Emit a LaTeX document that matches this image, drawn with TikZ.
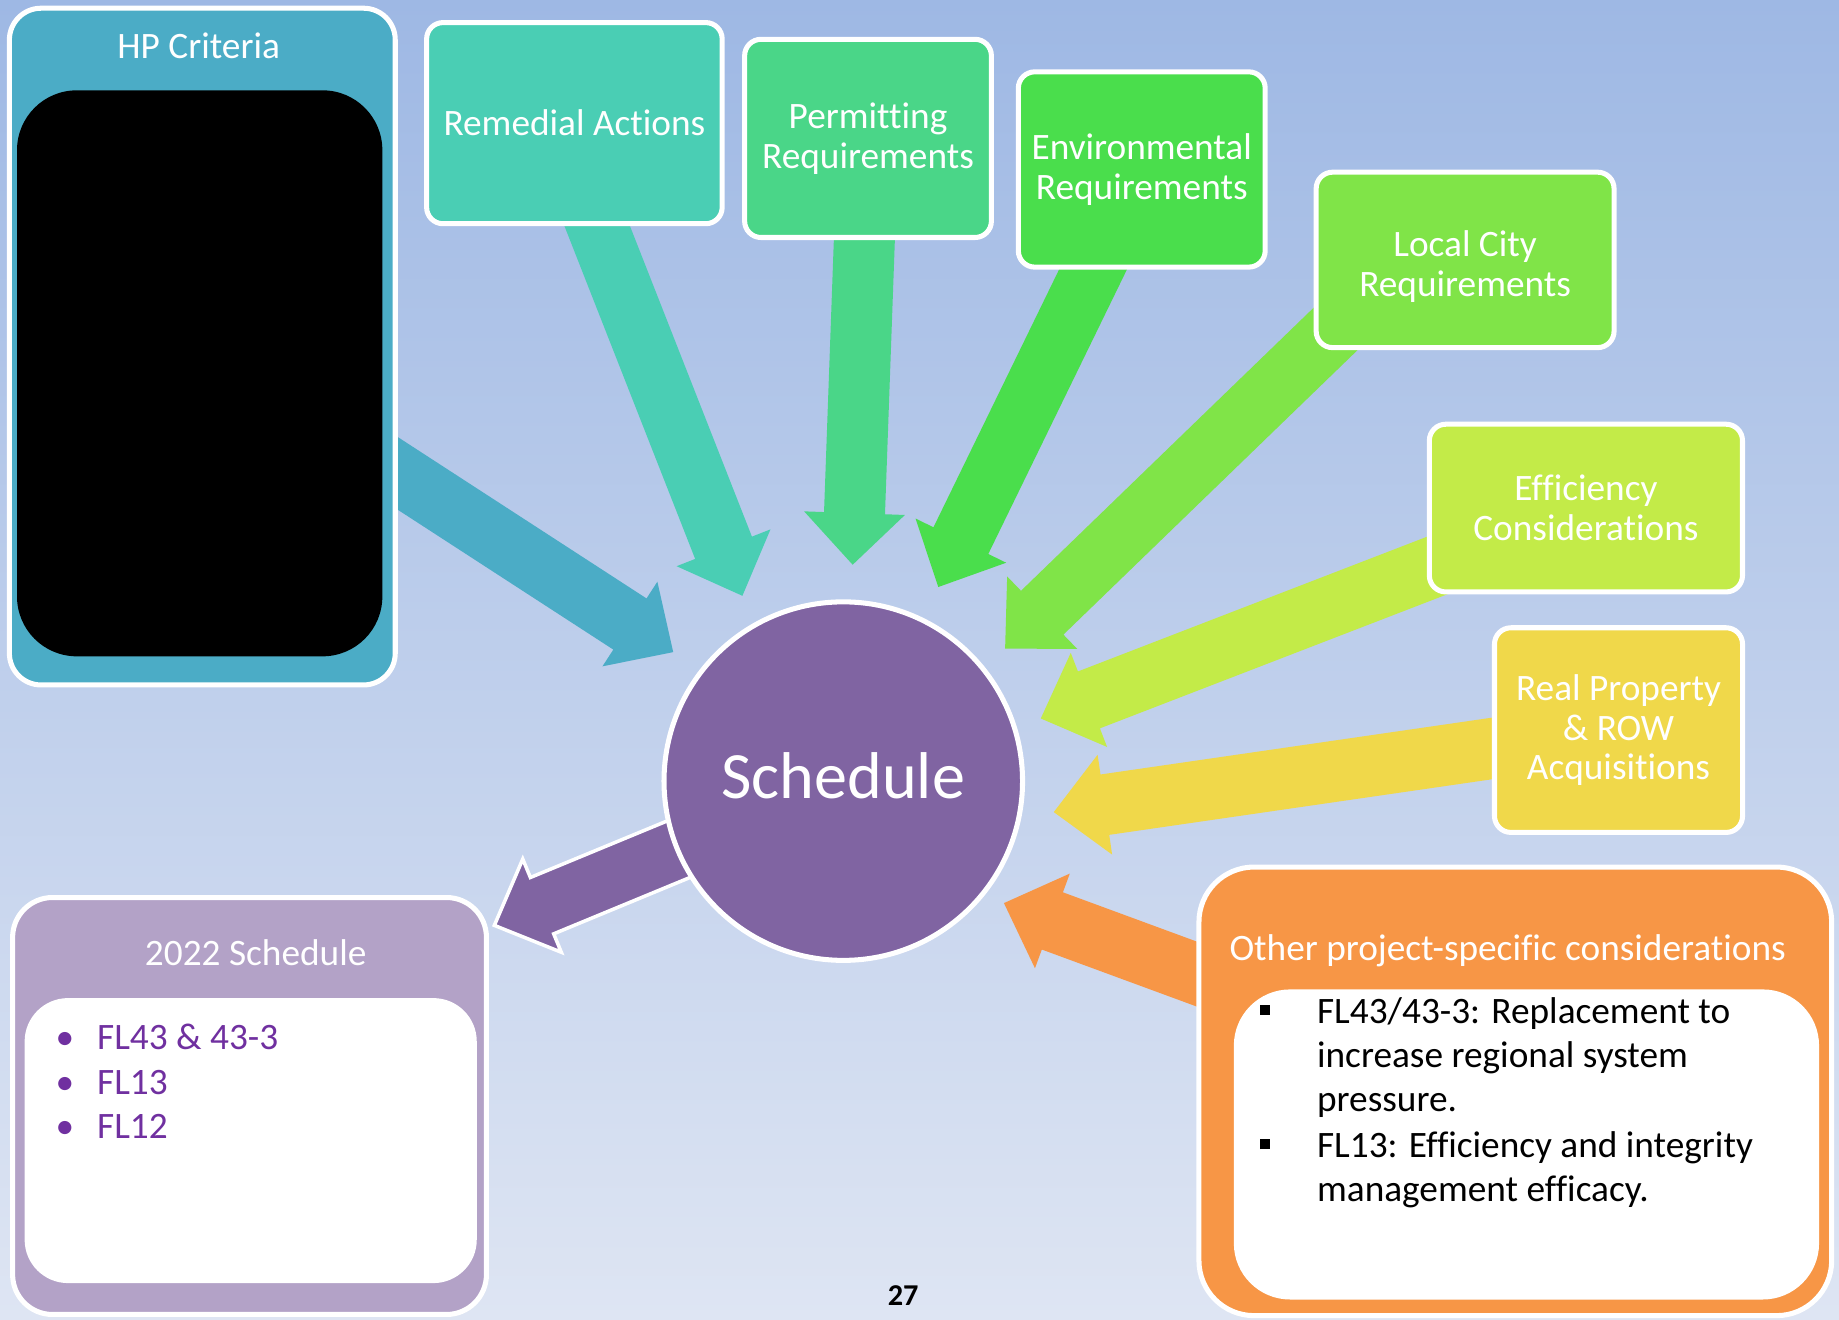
\documentclass[tikz,border=0pt]{standalone}
\usepackage{fontspec}
\setmainfont[Ligatures=NoCommon]{Carlito}
\usetikzlibrary{calc}

\newlength{\pxu}
\setlength{\pxu}{0.5pt}

\definecolor{bgtop}{RGB}{158,184,228}
\definecolor{bgbot}{RGB}{222,229,243}
\definecolor{hpblue}{RGB}{75,172,198}
\definecolor{remteal}{RGB}{74,206,180}
\definecolor{permgreen}{RGB}{74,214,136}
\definecolor{envgreen}{RGB}{74,222,76}
\definecolor{citygreen}{RGB}{128,228,72}
\definecolor{effgreen}{RGB}{195,235,72}
\definecolor{rowyellow}{RGB}{240,216,74}
\definecolor{othorange}{RGB}{247,150,70}
\definecolor{schpurple}{RGB}{128,100,162}
\definecolor{lilac}{RGB}{179,162,199}
\definecolor{itempurple}{RGB}{112,48,160}

\pgfdeclarelayer{page}
\pgfdeclarelayer{arrows}
\pgfsetlayers{page,arrows,main}

\newcommand{\sqbullet}{\rule[3.6pt]{4.3pt}{4.3pt}}

% block arrow: #1 style, #2 tail, #3 tip
\newcommand{\bigarrow}[3]{%
  \coordinate (ba-s) at (#2);
  \coordinate (ba-t) at (#3);
  \coordinate (ba-b) at ($(ba-t)!22pt!(ba-s)$);
  \coordinate (ba-e) at ($(ba-s)!24pt!180:(ba-t)$);
  \path[#1] (ba-t) -- ($(ba-b)!21.5pt!90:(ba-s)$) -- ($(ba-b)!13pt!90:(ba-s)$)
     -- ($(ba-e)!13pt!-90:(ba-t)$) -- ($(ba-e)!13pt!90:(ba-t)$)
     -- ($(ba-b)!13pt!-90:(ba-s)$) -- ($(ba-b)!21.5pt!-90:(ba-s)$) -- cycle;
}

\begin{document}
\begin{tikzpicture}[x=0.5pt,y=-0.5pt,
    box/.style={rectangle, rounded corners=14\pxu, draw=white, line width=4.3\pxu,
      text=white, align=center, inner sep=0pt, font=\fontsize{15.9}{17}\selectfont},
    panel/.style={rectangle, draw=white, line width=4.3\pxu, inner sep=0pt},
    pane/.style={rectangle, draw=none, inner sep=0pt},
    head/.style={text=white, anchor=base, inner sep=0pt, font=\fontsize{15.9}{17}\selectfont}]

\useasboundingbox (0,0) rectangle (1568,1125);
\begin{pgfonlayer}{page}
  \shade[top color=bgtop, bottom color=bgbot] (0,0) rectangle (1568,1125);
\end{pgfonlayer}

\node[panel, fill=hpblue, rounded corners=27\pxu, minimum width=329\pxu, minimum height=577\pxu] (hp) at (172.5,295.5) {};
\node[pane, fill=black, rounded corners=51\pxu, minimum width=311.5\pxu, minimum height=482.6\pxu] (hpin) at (170.25,318.3) {};
\node[head] (hptitle) at (169.4,49.5) {HP Criteria};

\node[box, fill=remteal, minimum width=252\pxu, minimum height=171.5\pxu] (rem) at (489.75,105) {Remedial Actions};
\node[box, fill=permgreen, minimum width=210.4\pxu, minimum height=169\pxu] (perm) at (740.1,118) {Permitting\\Requirements};
\node[box, fill=envgreen, minimum width=210.5\pxu, minimum height=166.5\pxu] (env) at (973.5,144.5) {Environmental\\Requirements};
\node[box, fill=citygreen, minimum width=254\pxu, minimum height=149.6\pxu] (city) at (1249.2,221.6) {\rule{0pt}{17pt}Local City\\Requirements};
\node[box, fill=effgreen, minimum width=267\pxu, minimum height=143\pxu] (eff) at (1352.2,433.2) {Efficiency\\Considerations};
\node[box, fill=rowyellow, minimum width=211.5\pxu, minimum height=174.5\pxu] (row) at (1380,622.5) {Real Property\\\& ROW\\Acquisitions};

\node[panel, fill=othorange, rounded corners=47\pxu, minimum width=539.5\pxu, minimum height=382.5\pxu] (oth) at (1292,930.5) {};
\node[pane, fill=white, rounded corners=48\pxu, minimum width=499\pxu, minimum height=264.4\pxu] (othin) at (1301.5,975.8) {};
\node[head] (othtitle) at (1285.5,818.6) {Other project-specific considerations};
\node[anchor=base west, inner sep=0pt, font=\fontsize{15.9}{18.75}\selectfont] (othlist) at (1074,872.4) {%
  \begin{tabular}[t]{@{}p{24.3pt}@{}l@{}}
    \sqbullet & FL43/43-3: Replacement to\\
    & increase regional system\\
    & pressure.\\[1pt]
    \sqbullet & FL13: Efficiency and integrity\\
    & management efficacy.
  \end{tabular}};

\node[panel, fill=lilac, rounded corners=34\pxu, minimum width=404\pxu, minimum height=355.5\pxu] (s22) at (212.75,943) {};
\node[pane, fill=white, rounded corners=37\pxu, minimum width=385.5\pxu, minimum height=243\pxu] (s22in) at (213.75,972.5) {};
\node[head] (s22title) at (218,823) {2022 Schedule};
\node[anchor=base west, inner sep=0pt, text=itempurple, font=\fontsize{15.9}{19.1}\selectfont] (s22list) at (47,894.6) {%
  \begin{tabular}[t]{@{}p{17.75pt}@{}l@{}}
    \textbullet & FL43 \& 43-3\\
    \textbullet & FL13\\
    \textbullet & FL12
  \end{tabular}};

\node[circle, fill=schpurple, draw=white, line width=4.3\pxu, minimum size=305.7\pxu, inner sep=0pt,
  text=white, font=\fontsize{28.2}{30}\selectfont, text height=29\pxu, text depth=0pt] (sched) at (719,666) {Schedule};

\node[anchor=base, inner sep=0pt, font=\fontsize{12.9}{14}\selectfont\bfseries] (pageno) at (770,1113.5) {27};

\coordinate (hptip) at (574,556);
\coordinate (remtip) at (633,508);
\coordinate (permtip) at (727,481.5);
\coordinate (envtip) at (800,500.5);
\coordinate (citytip) at (857,553);
\coordinate (efftip) at (887.4,612.6);
\coordinate (rowtip) at (898.5,692.4);
\coordinate (othtip) at (856,770);
\coordinate (s22tip) at (421.5,789);

\begin{pgfonlayer}{arrows}
  \bigarrow{fill=hpblue}{hp}{hptip}
  \bigarrow{fill=remteal}{$(rem)+(-15,0)$}{remtip}
  \bigarrow{fill=permgreen}{perm}{permtip}
  \bigarrow{fill=envgreen}{env}{envtip}
  \bigarrow{fill=citygreen}{city.south west}{citytip}
  \bigarrow{fill=effgreen}{eff}{efftip}
  \bigarrow{fill=rowyellow}{row}{rowtip}
  \bigarrow{fill=othorange}{oth}{othtip}
  \bigarrow{fill=schpurple, draw=white, line width=3\pxu}{sched}{s22tip}
\end{pgfonlayer}
\end{tikzpicture}
\end{document}
